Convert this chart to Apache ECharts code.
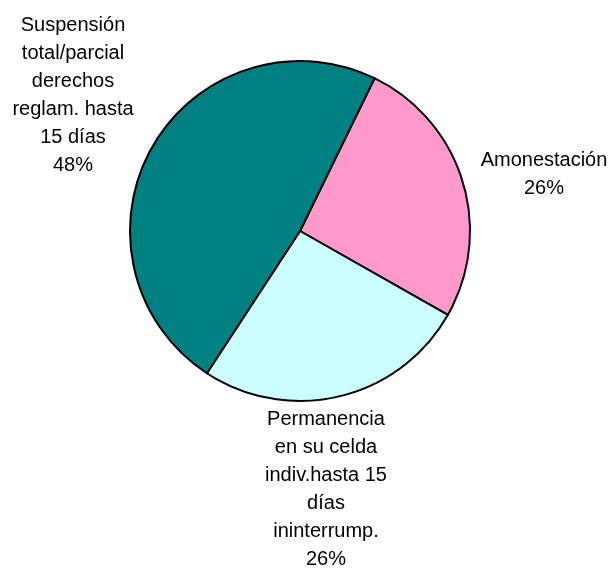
<!DOCTYPE html>
<html>
<head>
<meta charset="utf-8">
<script src="https://cdn.jsdelivr.net/npm/echarts@6/dist/echarts.min.js"></script>
<style>
html,body{margin:0;padding:0;background:#fff;}
#chart{width:615px;height:569px;}
</style>
</head>
<body>
<div id="chart"></div>
<script>
const categories = [
  'Amonestación',
  'Permanencia\nen su celda\nindiv.hasta 15\ndías\nininterrump.',
  'Suspensión\ntotal/parcial\nderechos\nreglam. hasta\n15 días'
];
const values = [26, 26, 48];
const colors = ['#FF99CC', '#CCFFFF', '#008080'];

// label anchor positions (layout only)
const labelPos = [[544, 174], [326, 489], [73, 95]];

const chart = echarts.init(document.getElementById('chart'), null, {renderer: 'canvas'});
chart.setOption({
  animation: false,
  backgroundColor: '#ffffff',
  series: [{
    type: 'pie',
    center: [300, 231],
    radius: 170,
    startAngle: 64,
    clockwise: true,
    percentPrecision: 0,
    avoidLabelOverlap: false,
    emphasis: {disabled: true},
    itemStyle: {borderColor: '#000000', borderWidth: 2},
    label: {
      show: true,
      position: 'outside',
      formatter: '{b}\n{d}%',
      fontFamily: '"Liberation Sans", Arial, sans-serif',
      fontSize: 20,
      lineHeight: 28,
      color: '#000000',
      align: 'center'
    },
    labelLine: {show: false},
    labelLayout: function (params) {
      const p = labelPos[params.dataIndex];
      return {x: p[0], y: p[1], align: 'center', verticalAlign: 'middle'};
    },
    data: categories.map((c, i) => ({
      name: c,
      value: values[i],
      itemStyle: {color: colors[i]}
    }))
  }]
});
</script>
</body>
</html>
